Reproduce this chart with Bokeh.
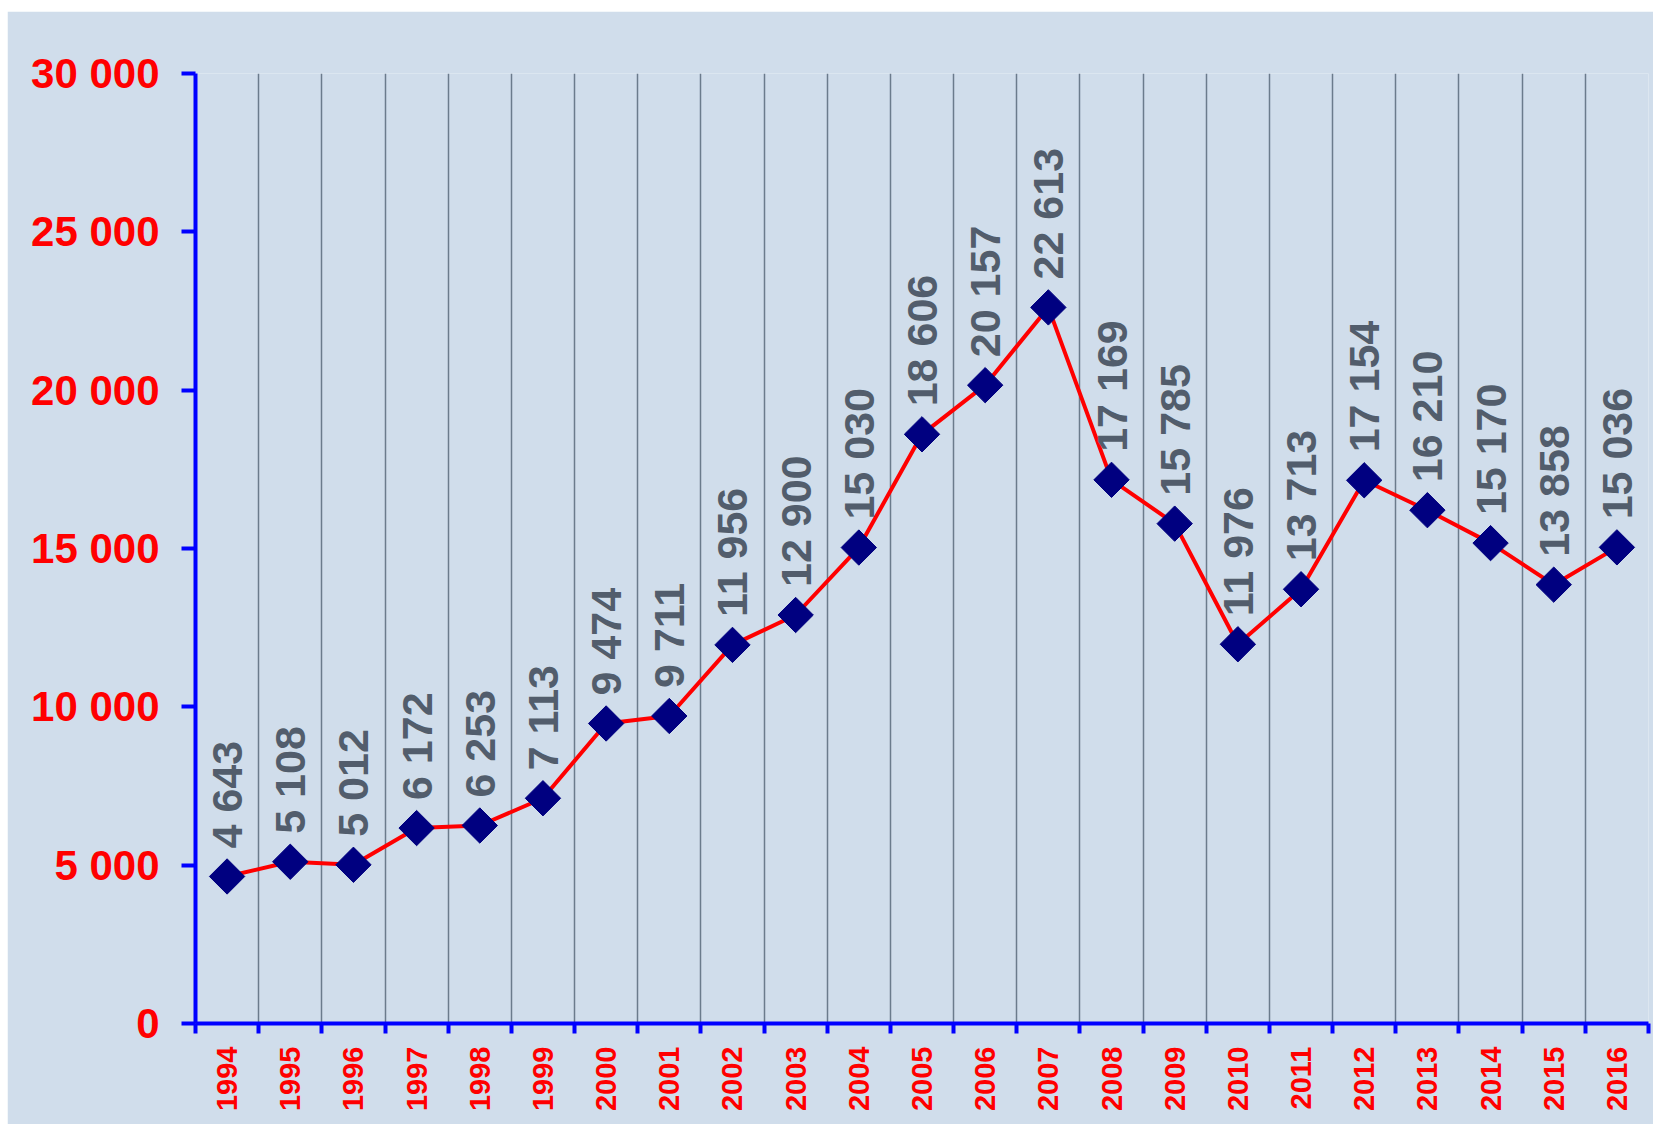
import math
from bokeh.plotting import figure
from bokeh.models import FixedTicker, Range1d, ColumnDataSource
from bokeh.core.properties import value
from bokeh.embed import file_html
from bokeh.resources import INLINE

# ---- data ----
years = list(range(1994, 2017))
values = [4643, 5108, 5012, 6172, 6253, 7113, 9474, 9711, 11956, 12900,
          15030, 18606, 20157, 22613, 17169, 15785, 11976, 13713, 17154,
          16210, 15170, 13858, 15036]
y_ticks = [0, 5000, 10000, 15000, 20000, 25000, 30000]


def fmt(v):
    return f"{v:,}".replace(",", " ")


labels = [fmt(v) for v in values]
bounds = [y - 0.5 for y in years] + [years[-1] + 0.5]

FONT = "'Liberation Sans Narrow', 'Arial Narrow', 'Liberation Sans', sans-serif"
BG = "#D0DDEB"

src = ColumnDataSource(dict(x=years, y=values, lab=labels))

p = figure(width=1646, height=1113,
           x_range=Range1d(years[0] - 0.5, years[-1] + 0.5),
           y_range=Range1d(0, 30000),
           output_backend="svg", toolbar_location=None,
           min_border_left=188, min_border_right=5,
           min_border_top=62, min_border_bottom=101,
           background_fill_color=BG, border_fill_color=BG,
           outline_line_color=None)
p.margin = (11, 0, 0, 7)

# grid
p.ygrid.grid_line_color = None
p.xgrid.ticker = FixedTicker(ticks=bounds)
p.xgrid.grid_line_color = "#6B7B8C"
p.xgrid.grid_line_width = 1.5

# y axis
ya = p.yaxis[0]
ya.ticker = FixedTicker(ticks=y_ticks)
ya.major_label_overrides = {t: fmt(t) for t in y_ticks}
ya.axis_line_color = "#0000FF"
ya.axis_line_width = 4
ya.major_tick_line_color = "#0000FF"
ya.major_tick_line_width = 4
ya.major_tick_out = 14
ya.major_tick_in = 0
ya.minor_tick_line_color = None
ya.major_label_text_color = "#FF0000"
ya.major_label_text_font = FONT
ya.major_label_text_font_style = "bold"
ya.major_label_text_font_size = "42px"
ya.major_label_standoff = 22

# x axis
xa = p.xaxis[0]
xa.ticker = FixedTicker(ticks=years, minor_ticks=bounds)
xa.axis_line_color = "#0000FF"
xa.axis_line_width = 4
xa.major_tick_line_color = None
xa.major_tick_out = 0
xa.major_tick_in = 0
xa.minor_tick_line_color = "#0000FF"
xa.minor_tick_line_width = 4
xa.minor_tick_out = 10
xa.minor_tick_in = 0
xa.major_label_orientation = math.pi / 2
xa.major_label_text_color = "#FF0000"
xa.major_label_text_font = FONT
xa.major_label_text_font_style = "bold"
xa.major_label_text_font_size = "29px"
xa.major_label_standoff = 13

# series
p.line("x", "y", source=src, line_color="#FF0000", line_width=4)
p.scatter("x", "y", source=src, marker="square", size=25, angle=math.pi / 4,
          fill_color="#000080", line_color="#000080")
p.text("x", "y", text="lab", source=src, angle=math.pi / 2,
       text_align="left", text_baseline="middle", y_offset=-28,
       text_color="#525D6C", text_font=value(FONT), text_font_style="bold",
       text_font_size="43px")

html = file_html(p, INLINE)
html = html.replace("<body>", '<body style="margin:0;overflow:hidden;background-color:#FFE3CC;">', 1)
open("out.html", "w").write(html)
